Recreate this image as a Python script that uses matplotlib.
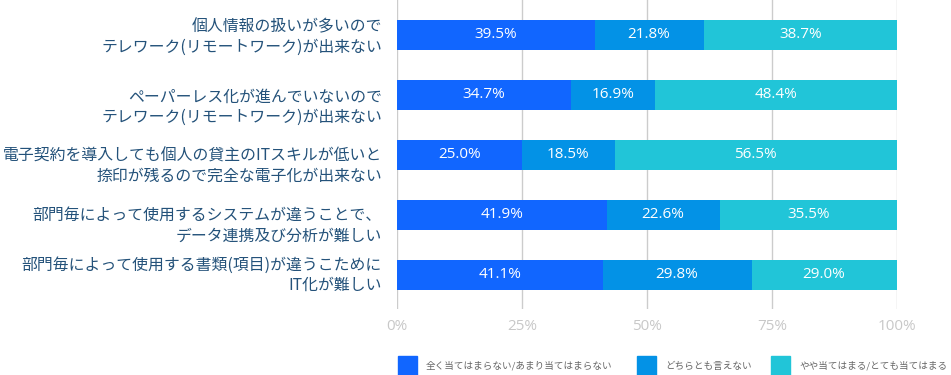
import matplotlib
matplotlib.use('Agg')
import matplotlib.pyplot as plt
from matplotlib.patches import Rectangle
import numpy as np

plt.rcParams['font.family'] = ['Noto Sans CJK JP', 'DejaVu Sans']

categories = [
    '個人情報の扱いが多いので\nテレワーク(リモートワーク)が出来ない',
    'ペーパーレス化が進んでいないので\nテレワーク(リモートワーク)が出来ない',
    '電子契約を導入しても個人の貸主のITスキルが低いと\n捺印が残るので完全な電子化が出来ない',
    '部門毎によって使用するシステムが違うことで、\nデータ連携及び分析が難しい',
    '部門毎によって使用する書類(項目)が違うこために\nIT化が難しい',
]
series_names = ['全く当てはまらない/あまり当てはまらない', 'どちらとも言えない', 'やや当てはまる/とても当てはまる']
not_apply = [39.5, 34.7, 25.0, 41.9, 41.1]
neutral = [21.8, 16.9, 18.5, 22.6, 29.8]
apply = [38.7, 48.4, 56.5, 35.5, 29.0]
tick_values = [0, 25, 50, 75, 100]

colors = ['#1166ff', '#0392e6', '#21c5d8']
label_color = '#24527a'
# small vertical nudges of the category labels (data units), as in the source chart
label_shift = [0.03, 0.2, 0.18, 0.18, 0.0]

fig = plt.figure(figsize=(9.51, 3.75), dpi=100)
ax = fig.add_axes([397 / 951, 66 / 375, 500 / 951, 309 / 375])

y = np.arange(len(categories))
left = np.zeros(len(categories))
for vals, col in zip([not_apply, neutral, apply], colors):
    bars = ax.barh(y, vals, left=left, height=0.5, color=col, zorder=3)
    for b, v in zip(bars, vals):
        ax.text(b.get_x() + b.get_width() / 2, b.get_y() + b.get_height() / 2,
                f'{v:.1f}%', ha='center', va='center', color='white',
                fontsize=11, family=['Open Sans', 'DejaVu Sans'], zorder=4)
    left += np.array(vals)

ax.set_xlim(0, 100)
ax.set_ylim(4.5667, -0.5833)
ax.set_xticks(tick_values)
ax.set_xticklabels([f'{t}%' for t in tick_values], color='#c8c8c8',
                   fontsize=11, family=['Open Sans', 'DejaVu Sans'])
ax.tick_params(axis='x', length=0, pad=7)
ax.set_yticks([])
ax.grid(axis='x', color='#cccccc', linewidth=1, zorder=0)
for s in ax.spines.values():
    s.set_visible(False)

trans = ax.get_yaxis_transform()
for i, (cat, sh) in enumerate(zip(categories, label_shift)):
    ax.text(-0.03, i + sh, cat, transform=trans, ha='right', va='center',
            multialignment='right', fontsize=11.4, color=label_color,
            linespacing=1.25)

# legend
leg_x = [398, 637, 771]
for lx, name, col in zip(leg_x, series_names, colors):
    fig.add_artist(Rectangle((lx / 951, 0), 19 / 951, 19 / 375,
                             transform=fig.transFigure, color=col))
    fig.text((lx + 28) / 951, 9 / 375, name, ha='left', va='center',
             fontsize=6.9, color='#666666')

fig.savefig('out.png', dpi=100)
